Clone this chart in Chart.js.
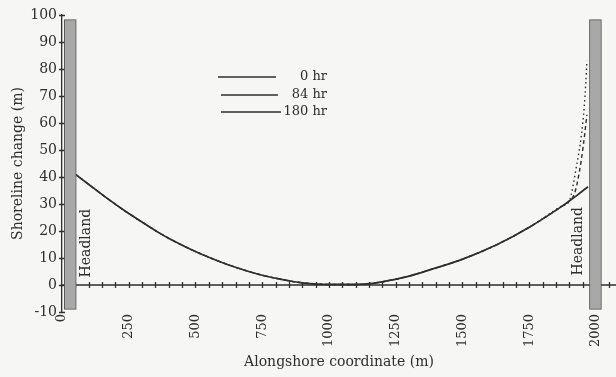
<!DOCTYPE html>
<html><head><meta charset="utf-8">
<script src="https://cdn.jsdelivr.net/npm/chart.js@4/dist/chart.umd.min.js"></script>
<style>html,body{margin:0;padding:0;background:#f6f6f4;}#wrap{width:616px;height:377px;}</style>
</head><body><div id="wrap"><canvas id="c" width="616" height="377"></canvas></div>
<script>
// ---- data ----
const xTickLabels = [0, 250, 500, 750, 1000, 1250, 1500, 1750, 2000];
const yTickLabels = [-10, 0, 10, 20, 30, 40, 50, 60, 70, 80, 90, 100];
const seriesLabels = ['0 hr', '84 hr', '180 hr'];

const x0hr = [45, 114, 176, 239, 289, 364, 401, 489, 552, 614, 739, 826, 864, 900, 1000, 1100, 1163, 1227, 1300, 1377, 1501, 1628, 1752, 1876, 1900, 1930, 1970];
const y0hr = [41.4, 36.2, 31.6, 27.2, 24.0, 19.3, 17.2, 12.9, 10.2, 7.8, 3.9, 2.0, 1.3, 0.8, 0.2, 0.2, 0.6, 1.7, 3.3, 5.6, 9.6, 14.9, 21.5, 29.4, 31.1, 33.3, 36.4];

const x84hr = [45, 114, 176, 239, 289, 364, 401, 489, 552, 614, 739, 826, 864, 900, 1000, 1100, 1163, 1227, 1300, 1377, 1501, 1628, 1752, 1876, 1900, 1920, 1938, 1953, 1966];
const y84hr = [41.4, 36.2, 31.6, 27.2, 24.0, 19.3, 17.2, 12.9, 10.2, 7.8, 3.9, 2.0, 1.3, 0.8, 0.2, 0.2, 0.6, 1.7, 3.3, 5.6, 9.6, 14.9, 21.5, 29.4, 31.1, 34, 42, 52, 63];

const x180hr = [45, 114, 176, 239, 289, 364, 401, 489, 552, 614, 739, 826, 864, 900, 1000, 1100, 1163, 1227, 1300, 1377, 1501, 1628, 1752, 1876, 1900, 1927, 1946, 1956, 1962, 1966];
const y180hr = [41.4, 36.2, 31.6, 27.2, 24.0, 19.3, 17.2, 12.9, 10.2, 7.8, 3.9, 2.0, 1.3, 0.8, 0.2, 0.2, 0.6, 1.7, 3.3, 5.6, 9.6, 14.9, 21.5, 29.4, 31.1, 44, 56, 66, 75, 83];

const headlandX = [31, 1998];
const headlandSpan = [-9, 98.3];
const headlandLabel = 'Headland';

// ---- chart ----
const FONT = 'DejaVu Serif';
const INK = '#2e2e2e';
const pts = (xs, ys) => xs.map((x, i) => ({x: x, y: ys[i]}));

const bgPlugin = {
  id: 'bg',
  beforeDraw(chart) {
    const ctx = chart.ctx;
    ctx.save(); ctx.fillStyle = '#f6f6f4';
    ctx.fillRect(0, 0, chart.width, chart.height); ctx.restore();
  }
};

const axesPlugin = {
  id: 'axesCross',
  beforeDatasetsDraw(chart) {
    const ctx = chart.ctx, xs = chart.scales.x, ys = chart.scales.y;
    const y0 = ys.getPixelForValue(0);
    ctx.save();
    ctx.strokeStyle = INK; ctx.lineWidth = 1.3;
    ctx.beginPath();
    ctx.moveTo(xs.left, y0); ctx.lineTo(xs.right, y0);
    for (let v = 50; v <= xs.max; v += 50) {
      const px = Math.round(xs.getPixelForValue(v)) + 0.5;
      ctx.moveTo(px, y0 - 3); ctx.lineTo(px, y0 + 3);
    }
    const ax = xs.left;
    yTickLabels.forEach(v => {
      const py = Math.round(ys.getPixelForValue(v)) + 0.5;
      ctx.moveTo(ax - 3, py); ctx.lineTo(ax + 3, py);
    });
    ctx.stroke();
    ctx.restore();
  },
  afterDatasetsDraw(chart) {
    const ctx = chart.ctx, xs = chart.scales.x, ys = chart.scales.y;
    ctx.save();
    ctx.fillStyle = INK;
    ctx.font = '14px "' + FONT + '"';
    ctx.textAlign = 'center'; ctx.textBaseline = 'middle';
    [[92, 15.5], [1934, 16.2]].forEach(p => {
      ctx.save();
      ctx.translate(xs.getPixelForValue(p[0]), ys.getPixelForValue(p[1]));
      ctx.rotate(-Math.PI / 2);
      ctx.fillText(headlandLabel, 0, 0);
      ctx.restore();
    });
    // legend
    const rows = [[218, 276, 77], [221, 278, 95], [221, 281, 112]];
    ctx.font = '13px "' + FONT + '"';
    ctx.textAlign = 'right';
    ctx.strokeStyle = INK; ctx.lineWidth = 1.5;
    const sets = chart.data.datasets.filter(d => d.type === 'line');
    sets.forEach((d, i) => {
      const r = rows[i];
      ctx.beginPath(); ctx.moveTo(r[0], r[2]); ctx.lineTo(r[1], r[2]); ctx.stroke();
      ctx.fillText(d.label, 327, r[2]);
    });
    ctx.restore();
  }
};

new Chart(document.getElementById('c'), {
  type: 'line',
  data: {
    datasets: [
      {
        type: 'bar', label: 'Headland',
        data: headlandX.map(x => ({x: x, y: headlandSpan.slice()})),
        backgroundColor: '#a8a8a8', borderColor: '#555', borderWidth: 1,
        borderSkipped: false, barThickness: 12, order: 0
      },
      { type: 'line', label: seriesLabels[0], data: pts(x0hr, y0hr), borderColor: INK, borderWidth: 1.7, pointRadius: 0, cubicInterpolationMode: 'monotone', order: 1 },
      { type: 'line', label: seriesLabels[1], data: pts(x84hr, y84hr), borderColor: INK, borderWidth: 1.4, borderDash: [4, 3], pointRadius: 0, cubicInterpolationMode: 'monotone', order: 2 },
      { type: 'line', label: seriesLabels[2], data: pts(x180hr, y180hr), borderColor: INK, borderWidth: 1.4, borderDash: [1.5, 3], pointRadius: 0, cubicInterpolationMode: 'monotone', order: 3 }
    ]
  },
  options: {
    responsive: false, animation: false, devicePixelRatio: 1,
    layout: { padding: { top: 15, right: 0, bottom: 0, left: 0 } },
    plugins: { legend: { display: false }, tooltip: { enabled: false } },
    scales: {
      x: {
        type: 'linear', min: 0, max: 2075, position: 'bottom', offset: false,
        afterBuildTicks: s => { s.ticks = xTickLabels.map(v => ({value: v})); },
        afterFit: s => { s.height = 65; },
        ticks: { minRotation: 90, maxRotation: 90, autoSkip: false, padding: 2, color: INK, font: { family: FONT, size: 13 }, callback: v => String(v) },
        grid: { display: false, drawTicks: false, offset: false },
        border: { display: false },
        title: { display: true, text: 'Alongshore coordinate (m)', color: INK, font: { family: FONT, size: 14 }, padding: { top: 0, bottom: 6 } }
      },
      y: {
        type: 'linear', min: -10, max: 100,
        afterBuildTicks: s => { s.ticks = yTickLabels.map(v => ({value: v})); },
        afterFit: s => { s.width = 62; },
        ticks: { padding: 5, color: INK, font: { family: FONT, size: 14 } },
        grid: { drawOnChartArea: false, drawTicks: false },
        border: { display: true, color: INK, width: 1.3 },
        title: { display: true, text: 'Shoreline change (m)', color: INK, font: { family: FONT, size: 14 }, padding: { top: 10, bottom: 0 } }
      }
    }
  },
  plugins: [bgPlugin, axesPlugin]
});
</script></body></html>
